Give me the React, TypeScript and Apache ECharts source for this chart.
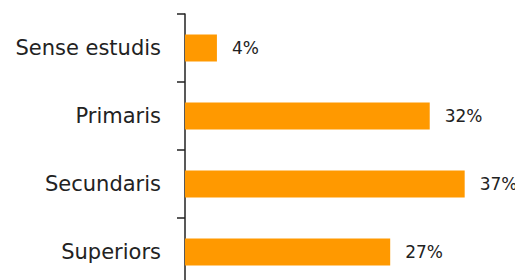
import React, { useEffect, useRef } from "react";
import * as echarts from "echarts";

const categories = ["Sense estudis", "Primaris", "Secundaris", "Superiors"];
const values = [4.2, 32.2, 36.8, 27];
const valueLabels = ["4%", "32%", "37%", "27%"];

export default function App() {
  const ref = useRef<HTMLDivElement>(null);
  useEffect(() => {
    document.body.style.overflow = "hidden";
    const chart = echarts.init(ref.current!, null, { renderer: "svg" });
    chart.setOption({
      animation: false,
      grid: { left: 177, top: 6, width: 304, height: 272 },
      xAxis: { type: "value", min: 0, max: 40, show: false },
      yAxis: {
        type: "category",
        data: categories,
        inverse: true,
        axisLine: { show: true, lineStyle: { color: "#222", width: 1.5 } },
        axisTick: { show: true, length: 8, lineStyle: { color: "#222", width: 1.5 } },
        axisLabel: { color: "#222", fontSize: 21, fontFamily: "DejaVu Sans", margin: 24 },
      },
      series: [
        {
          type: "bar",
          data: values,
          barWidth: 27,
          itemStyle: { color: "#FF9900" },
          label: {
            show: true,
            position: "right",
            distance: 15,
            color: "#222",
            fontSize: 17,
            fontFamily: "DejaVu Sans",
            formatter: (p: any) => valueLabels[p.dataIndex],
          },
        },
      ],
    });
    return () => chart.dispose();
  }, []);
  return <div ref={ref} style={{ width: 515, height: 300 }} />;
}
